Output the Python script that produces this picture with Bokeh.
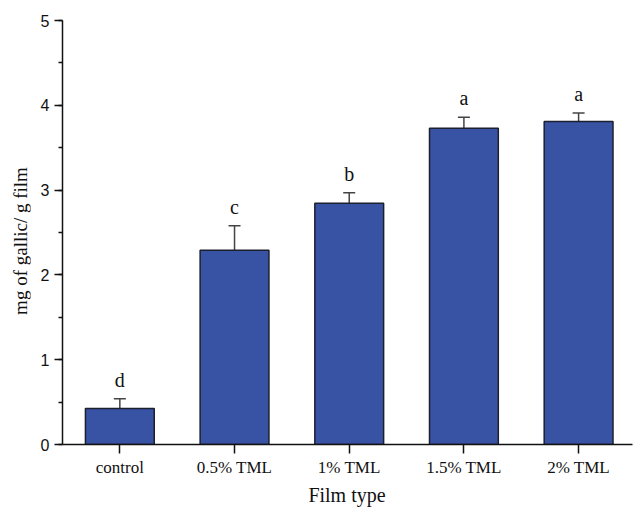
from bokeh.plotting import figure
from bokeh.layouts import row, column
from bokeh.models import (ColumnDataSource, Range1d, FixedTicker, SingleIntervalTicker,
                          Whisker, TeeHead, Div)
from bokeh.core.properties import value
from bokeh.embed import file_html
from bokeh.resources import INLINE

# Total phenolic content per film formulation
film_types = ["control", "0.5% TML", "1% TML", "1.5% TML", "2% TML"]
gallic_mg = [0.425, 2.29, 2.845, 3.73, 3.81]
std_err = [0.115, 0.29, 0.125, 0.13, 0.10]
groups = ["d", "c", "b", "a", "a"]
x_title = "Film type"
y_title = "mg of gallic/ g film"

xs = list(range(1, len(film_types) + 1))
tops = [v + e for v, e in zip(gallic_mg, std_err)]

SERIF = "Liberation Serif"
SANS = "Liberation Sans"
INK = "#111111"

src = ColumnDataSource(dict(x=xs, y=gallic_mg, upper=tops, label=groups))

TITLE_W, TITLE_H = 30, 28
PW, PH = 633 - TITLE_W, 508 - TITLE_H

p = figure(width=PW, height=PH, output_backend="svg", toolbar_location=None,
           x_range=Range1d(0.5, 5.47), y_range=Range1d(0, 5),
           min_border_left=62 - TITLE_W, min_border_right=1, min_border_top=20,
           min_border_bottom=PH - 444, margin=0)
p.outline_line_color = None
p.xgrid.visible = False
p.ygrid.visible = False

p.vbar(x="x", top="y", bottom=0, width=0.6, source=src,
       fill_color="#3953A4", line_color="#1c1f2e", line_width=1.5)

whisk = Whisker(base="x", lower="y", upper="upper", source=src,
                line_color="#444444", line_width=1.5,
                lower_head=None,
                upper_head=TeeHead(size=12, line_color="#444444", line_width=1.5))
p.add_layout(whisk)

p.text(x="x", y="upper", text="label", source=src, text_align="center",
       text_baseline="bottom", y_offset=-8, text_font=value(SERIF),
       text_font_size="20px", text_color=INK)

# x axis
xa = p.xaxis[0]
xa.ticker = FixedTicker(ticks=xs, minor_ticks=[])
xa.major_label_overrides = {i: name for i, name in zip(xs, film_types)}
xa.major_label_text_font = SERIF
xa.major_label_text_font_size = "17px"
xa.major_label_standoff = 4
xa.major_tick_out = 9
xa.major_tick_in = 0
xa.minor_tick_out = 0
xa.minor_tick_in = 0
xa.axis_line_width = 1.5
xa.major_tick_line_width = 1.5
xa.axis_line_color = INK
xa.major_tick_line_color = INK
xa.major_label_text_color = INK

# y axis
ya = p.yaxis[0]
ya.ticker = SingleIntervalTicker(interval=1, num_minor_ticks=2)
ya.major_label_text_font = SANS
ya.major_label_text_font_size = "16px"
ya.major_label_standoff = 5
ya.major_tick_out = 8
ya.major_tick_in = 0
ya.minor_tick_out = 4
ya.minor_tick_in = 0
ya.axis_line_width = 1.5
ya.major_tick_line_width = 1.5
ya.minor_tick_line_width = 1.5
ya.axis_line_color = INK
ya.major_tick_line_color = INK
ya.minor_tick_line_color = INK
ya.major_label_text_color = INK

# serif axis titles set in HTML beside the plot
font_css = f"font-family:'{SERIF}',serif;color:{INK};white-space:nowrap;line-height:1;"
ydiv = Div(width=TITLE_W, height=508, margin=0, text=(
    f'<div style="position:relative;width:{TITLE_W}px;height:508px;">'
    f'<div style="position:absolute;left:20px;top:241px;'
    f'transform:translate(-50%,-50%) rotate(-90deg);font-size:19px;{font_css}">'
    f'{y_title}</div></div>'))
xdiv = Div(width=PW, height=TITLE_H, margin=0, text=(
    f'<div style="position:relative;width:{PW}px;height:{TITLE_H}px;">'
    f'<div style="position:absolute;left:{347 - TITLE_W}px;top:15px;'
    f'transform:translate(-50%,-50%);font-size:20px;{font_css}">'
    f'{x_title}</div></div>'))

layout = row(ydiv, column(p, xdiv, spacing=0, margin=0), spacing=0, margin=0)

open("out.html", "w").write(file_html(layout, INLINE))
